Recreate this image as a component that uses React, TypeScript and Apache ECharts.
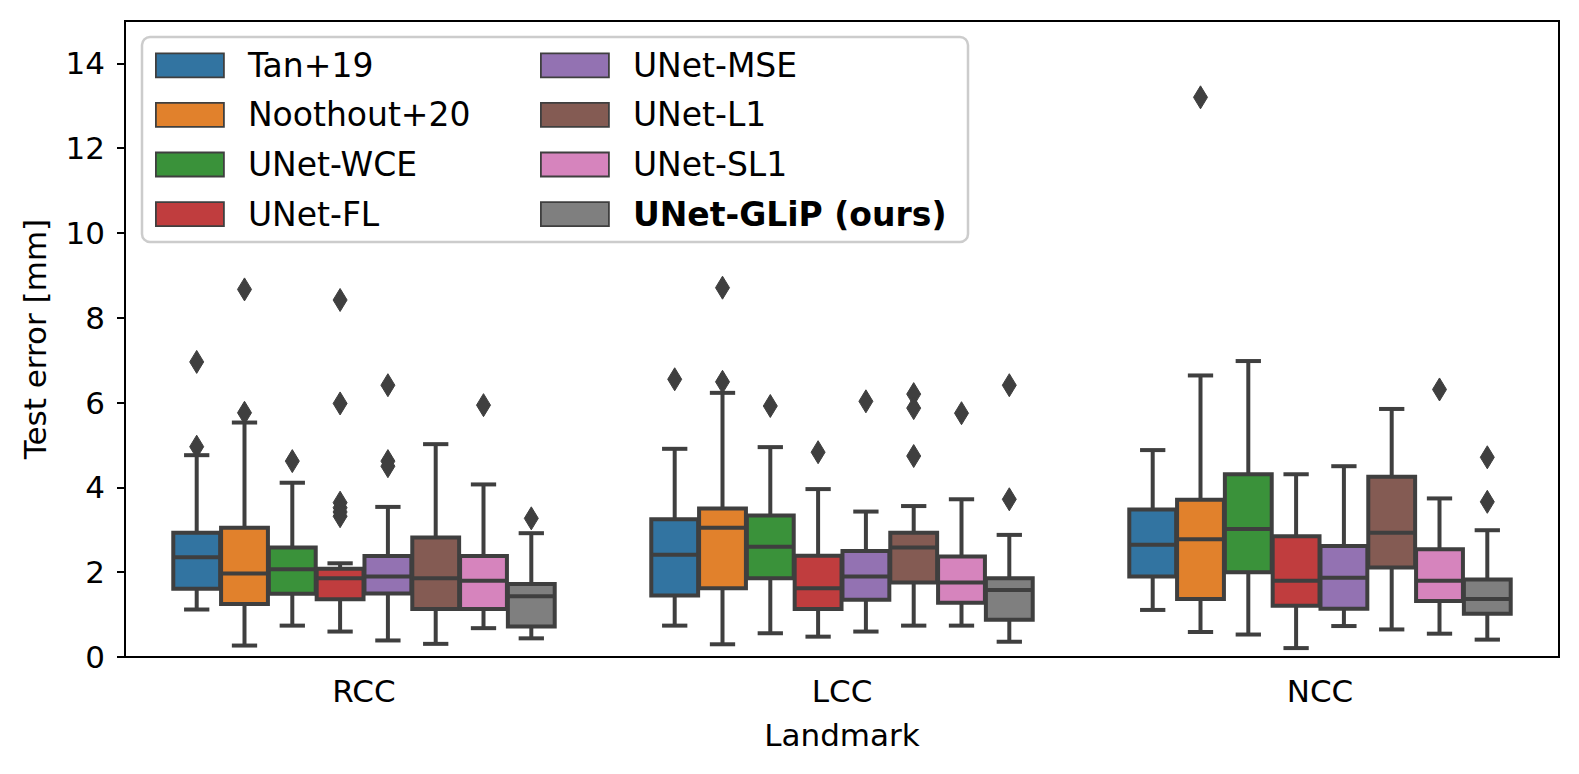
import React, { useEffect, useRef } from 'react';
import * as echarts from 'echarts';

const landmarks = ['RCC', 'LCC', 'NCC'];
const methods = [
  'Tan+19',
  'Noothout+20',
  'UNet-WCE',
  'UNet-FL',
  'UNet-MSE',
  'UNet-L1',
  'UNet-SL1',
  'UNet-GLiP (ours)',
];
const colors = ['#3274a1', '#e1812c', '#3a923a', '#c03d3e', '#9372b2', '#845b53', '#d684bd', '#7f7f7f'];
const yTicks = [0, 2, 4, 6, 8, 10, 12, 14];

// [min, q1, median, q3, max] for RCC, LCC, NCC
const tan19 = [[1.12, 1.61, 2.35, 2.93, 4.76], [0.74, 1.45, 2.41, 3.25, 4.91], [1.11, 1.9, 2.65, 3.48, 4.88]];
const noothout20 = [[0.27, 1.25, 1.97, 3.05, 5.53], [0.3, 1.62, 3.05, 3.5, 6.23], [0.59, 1.37, 2.78, 3.71, 6.64]];
const unetWCE = [[0.74, 1.49, 2.07, 2.58, 4.11], [0.56, 1.86, 2.6, 3.34, 4.95], [0.53, 2.0, 3.02, 4.31, 6.98]];
const unetFL = [[0.6, 1.36, 1.86, 2.08, 2.21], [0.48, 1.13, 1.62, 2.39, 3.96], [0.21, 1.21, 1.8, 2.85, 4.31]];
const unetMSE = [[0.39, 1.5, 1.9, 2.38, 3.54], [0.6, 1.35, 1.9, 2.5, 3.43], [0.73, 1.14, 1.87, 2.62, 4.5]];
const unetL1 = [[0.31, 1.13, 1.86, 2.82, 5.02], [0.74, 1.76, 2.58, 2.93, 3.56], [0.65, 2.11, 2.93, 4.25, 5.85]];
const unetSL1 = [[0.68, 1.13, 1.8, 2.38, 4.07], [0.74, 1.28, 1.76, 2.37, 3.72], [0.55, 1.32, 1.8, 2.54, 3.74]];
const unetGLiP = [[0.44, 0.72, 1.43, 1.72, 2.92], [0.36, 0.88, 1.58, 1.86, 2.88], [0.41, 1.02, 1.37, 1.83, 2.99]];

// outliers: [landmark index, value]
const tan19Out = [[0, 6.96], [0, 4.96], [1, 6.55]];
const noothout20Out = [[0, 8.67], [0, 5.76], [1, 8.71], [1, 6.49], [2, 13.2]];
const unetWCEOut = [[0, 4.62], [1, 5.92]];
const unetFLOut = [[0, 8.42], [0, 5.98], [0, 3.64], [0, 3.52], [0, 3.42], [0, 3.32], [1, 4.83]];
const unetMSEOut = [[0, 6.41], [0, 4.62], [0, 4.5], [1, 6.03]];
const unetL1Out = [[1, 6.2], [1, 5.87], [1, 4.74]];
const unetSL1Out = [[0, 5.94], [1, 5.75], [2, 6.31]];
const unetGLiPOut = [[0, 3.27], [1, 6.41], [1, 3.72], [2, 4.71], [2, 3.66]];

const boxStats = [tan19, noothout20, unetWCE, unetFL, unetMSE, unetL1, unetSL1, unetGLiP];
const outlierLists = [tan19Out, noothout20Out, unetWCEOut, unetFLOut, unetMSEOut, unetL1Out, unetSL1Out, unetGLiPOut];

const EDGE = '#3f3f3f';
const FONT = 'DejaVu Sans';
const HUE_STEP = 0.1;
const BOX_W = 0.098;

function hueOffset(hue: number, band: number) {
  return (hue - (methods.length - 1) / 2) * HUE_STEP * band;
}

function makeBoxRender(hue: number) {
  return (params: any, api: any) => {
    const c = api.value(0);
    const band = api.size([1, 0])[0];
    const w = BOX_W * band;
    const pMin = api.coord([c, api.value(1)]);
    const pQ1 = api.coord([c, api.value(2)]);
    const pMed = api.coord([c, api.value(3)]);
    const pQ3 = api.coord([c, api.value(4)]);
    const pMax = api.coord([c, api.value(5)]);
    const x = pMed[0] + hueOffset(hue, band);
    const cap = w * 0.27;
    const ls = { stroke: EDGE, lineWidth: 4, fill: null };
    return {
      type: 'group',
      children: [
        { type: 'line', shape: { x1: x, y1: pQ3[1], x2: x, y2: pMax[1] }, style: ls },
        { type: 'line', shape: { x1: x, y1: pQ1[1], x2: x, y2: pMin[1] }, style: ls },
        { type: 'line', shape: { x1: x - cap, y1: pMax[1], x2: x + cap, y2: pMax[1] }, style: ls },
        { type: 'line', shape: { x1: x - cap, y1: pMin[1], x2: x + cap, y2: pMin[1] }, style: ls },
        {
          type: 'rect',
          shape: { x: x - w / 2, y: pQ3[1], width: w, height: pQ1[1] - pQ3[1] },
          style: { fill: colors[hue], stroke: EDGE, lineWidth: 4 },
        },
        { type: 'line', shape: { x1: x - w / 2, y1: pMed[1], x2: x + w / 2, y2: pMed[1] }, style: ls },
      ],
    };
  };
}

function outlierRender(params: any, api: any) {
  const c = api.value(0);
  const v = api.value(1);
  const hue = api.value(2);
  const band = api.size([1, 0])[0];
  const p = api.coord([c, v]);
  const x = p[0] + hueOffset(hue, band);
  const y = p[1];
  const h = 11.5;
  const hw = 7;
  return {
    type: 'polygon',
    shape: { points: [[x, y - h], [x + hw, y], [x, y + h], [x - hw, y]] },
    style: { fill: EDGE, stroke: EDGE, lineWidth: 1 },
  };
}

export default function App() {
  const ref = useRef<HTMLDivElement>(null);
  useEffect(() => {
    if (!ref.current) return;
    const chart = echarts.init(ref.current, null, { renderer: 'svg' });

    const boxSeries = methods.map((name, hue) => ({
      type: 'custom',
      name,
      itemStyle: { color: colors[hue] },
      renderItem: makeBoxRender(hue),
      encode: { x: 0, y: [1, 2, 3, 4, 5] },
      data: landmarks.map((_, c) => [c, ...boxStats[hue][c]]),
      z: 2,
    }));

    const outlierData: number[][] = [];
    outlierLists.forEach((list, hue) => list.forEach(([c, v]) => outlierData.push([c, v, hue])));

    const legendItem = (name: string, hue: number) => ({
      name,
      icon: 'rect',
      itemStyle: { color: colors[hue], borderColor: EDGE, borderWidth: 1.8 },
      textStyle: name === 'UNet-GLiP (ours)' ? { fontWeight: 'bold' } : {},
    });

    const legendCommon = {
      orient: 'vertical',
      top: 48.8,
      padding: 0,
      itemWidth: 68,
      itemHeight: 24,
      itemGap: 16.6,
      selectedMode: false,
      textStyle: {
        fontFamily: FONT,
        fontSize: 33,
        color: '#000',
        padding: [0, 0, 0, 19],
      },
    };

    chart.setOption({
      animation: false,
      backgroundColor: '#fff',
      grid: {
        left: 125,
        right: 20,
        top: 21,
        bottom: 117,
        show: true,
        borderColor: '#000',
        borderWidth: 2,
        backgroundColor: 'transparent',
      },
      graphic: [
        {
          type: 'rect',
          z: 3,
          shape: { x: 142, y: 37, width: 826, height: 205, r: 8 },
          style: { fill: 'rgba(255,255,255,0.8)', stroke: '#cccccc', lineWidth: 2.5 },
        },
      ],
      legend: [
        { ...legendCommon, left: 155, data: methods.slice(0, 4).map((n, i) => legendItem(n, i)) },
        { ...legendCommon, left: 540, data: methods.slice(4).map((n, i) => legendItem(n, i + 4)) },
      ],
      xAxis: {
        type: 'category',
        data: landmarks,
        name: 'Landmark',
        nameLocation: 'middle',
        nameGap: 62,
        nameTextStyle: { fontFamily: FONT, fontSize: 31, color: '#000' },
        axisLine: { lineStyle: { color: '#000', width: 2 } },
        axisTick: { alignWithLabel: true, length: 8, lineStyle: { color: '#000', width: 2 } },
        axisLabel: { fontFamily: FONT, fontSize: 31, color: '#000', margin: 18 },
        splitLine: { show: false },
      },
      yAxis: {
        type: 'value',
        min: 0,
        max: 15,
        interval: 2,
        name: 'Test error [mm]',
        nameLocation: 'middle',
        nameGap: 75,
        nameTextStyle: { fontFamily: FONT, fontSize: 31, color: '#000' },
        axisLine: { show: true, lineStyle: { color: '#000', width: 2 } },
        axisTick: { show: true, length: 8, lineStyle: { color: '#000', width: 2 }, customValues: yTicks },
        axisLabel: { fontFamily: FONT, fontSize: 31, color: '#000', margin: 20, customValues: yTicks },
        splitLine: { show: false },
      },
      series: [
        ...boxSeries,
        {
          type: 'custom',
          name: '__outliers',
          renderItem: outlierRender,
          encode: { x: 0, y: 1 },
          data: outlierData,
          z: 3,
        },
      ],
    });
    return () => chart.dispose();
  }, []);
  return (
    <div
      ref={ref}
      style={{ position: 'fixed', left: 0, top: 0, width: 1579, height: 774, background: '#fff' }}
    />
  );
}
